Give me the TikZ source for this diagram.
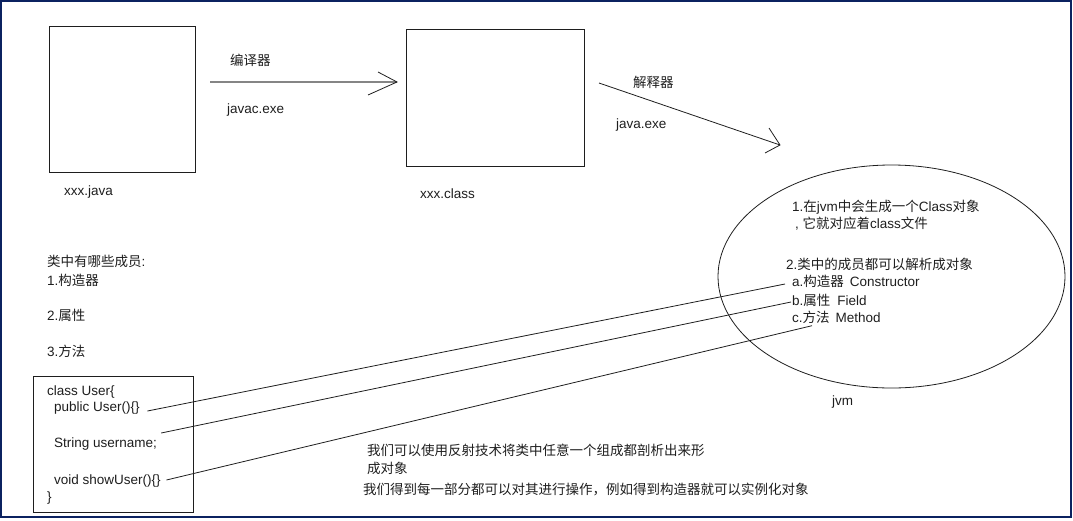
\documentclass[tikz,border=0pt]{standalone}
\usepackage{fontspec}
\setmainfont{Liberation Sans}
\newfontfamily\cjk{Noto Sans CJK SC}
\usetikzlibrary{shapes.geometric,calc}
\newcommand\zh[1]{{\cjk #1}}
\definecolor{frame}{HTML}{0B2260}
\definecolor{ink}{HTML}{1E1E1E}
\definecolor{shaftgray}{HTML}{858585}

\begin{document}
\begin{tikzpicture}[x=1pt,y=-1pt,
  lbl/.style={inner sep=0pt, anchor=west, text height=10pt, text depth=3pt,
              font=\fontsize{13.5}{16}\selectfont, text=ink},
  box/.style={draw=ink, line width=1pt, inner sep=0pt},
  wire/.style={draw=ink, line width=0.8pt},
  shaft/.style={draw=shaftgray, line width=1.4pt},
  barb/.style={draw=ink, line width=0.8pt}]

\useasboundingbox (0,0) rectangle (1073,520);
\draw[frame, line width=2pt] (1,1) rectangle (1071,517);

% source file, class file and the JVM
\node[box, minimum width=146pt, minimum height=146pt] (src) at (122,99) {};
\node[box, minimum width=178pt, minimum height=137pt] (cls) at (495,97.5) {};
\node[draw=ink, line width=0.8pt, ellipse, inner sep=0pt,
      minimum width=347pt, minimum height=223pt] (jvm) at (891.5,276.5) {};

\node[lbl] (srcname) at (64,192) {xxx.java};
\node[lbl] (clsname) at (420,195) {xxx.class};
\node[lbl] (jvmname) at (832,402) {jvm};

% compile step
\coordinate (c1) at (210,82);
\coordinate (c2) at (397,82);
\draw[shaft] (c1) -- (c2);
\draw[barb] ($(c2)+(-19,-10)$) -- (c2) -- ($(c2)+(-29,13)$);
\node[lbl] (compiler) at (230,62) {\zh{编译器}};
\node[lbl] (javac) at (227,110) {javac.exe};

% run step
\coordinate (r1) at (599,83);
\coordinate (r2) at (780,145);
\draw[wire] (r1) -- (r2);
\draw[barb] ($(r2)+(-11,-17)$) -- (r2) -- ($(r2)+(-15,8)$);
\node[lbl] (interp) at (633,84) {\zh{解释器}};
\node[lbl] (javaexe) at (616,125) {java.exe};

% text inside the JVM
\node[lbl] (j1) at (792,208) {1.\zh{在}jvm\zh{中会生成一个}Class\zh{对象}};
\node[lbl] (j2) at (795,225) {, \zh{它就对应着}class\zh{文件}};
\node[lbl] (j3) at (786,266) {2.\zh{类中的成员都可以解析成对象}};
\node[lbl] (ia) at (792,283) {a.\zh{构造器}\hspace{6pt}Constructor};
\node[lbl] (ib) at (792,302) {b.\zh{属性}\hspace{7pt}Field};
\node[lbl] (ic) at (792,319) {c.\zh{方法}\hspace{6pt}Method};

% members of a class
\node[lbl] (m0) at (47,263) {\zh{类中有哪些成员}:};
\node[lbl] (m1) at (47,282) {1.\zh{构造器}};
\node[lbl] (m2) at (47,317) {2.\zh{属性}};
\node[lbl] (m3) at (47,353) {3.\zh{方法}};

% the User class
\node[box, minimum width=160pt, minimum height=136pt] (code) at (113,444) {};
\node[lbl] (k0) at (47,392) {class User\{};
\node[lbl] (pub) at (54,408) {public User()\{\}};
\node[lbl] (str) at (54,444) {String username;};
\node[lbl] (shw) at (54,481) {void showUser()\{\}};
\node[lbl] (k1) at (47,498) {\}};

% each member maps to its reflected object
\draw[wire] ([xshift=7.5pt,yshift=-3pt]pub.east) -- ([xshift=-7pt,yshift=-1pt]ia.west);
\draw[wire] ([xshift=4pt,yshift=11pt]str.east) -- ([xshift=-1pt]ib.west);
\draw[wire] ([xshift=5.5pt,yshift=1pt]shw.east) -- ([xshift=20pt]ic.south west);

% notes on reflection
\node[lbl] (n1) at (367,452) {\zh{我们可以使用反射技术将类中任意一个组成都剖析出来形}};
\node[lbl] (n2) at (367,470) {\zh{成对象}};
\node[lbl] (n3) at (363,491) {\zh{我们得到每一部分都可以对其进行操作，例如得到构造器就可以实例化对象}};

\end{tikzpicture}
\end{document}
